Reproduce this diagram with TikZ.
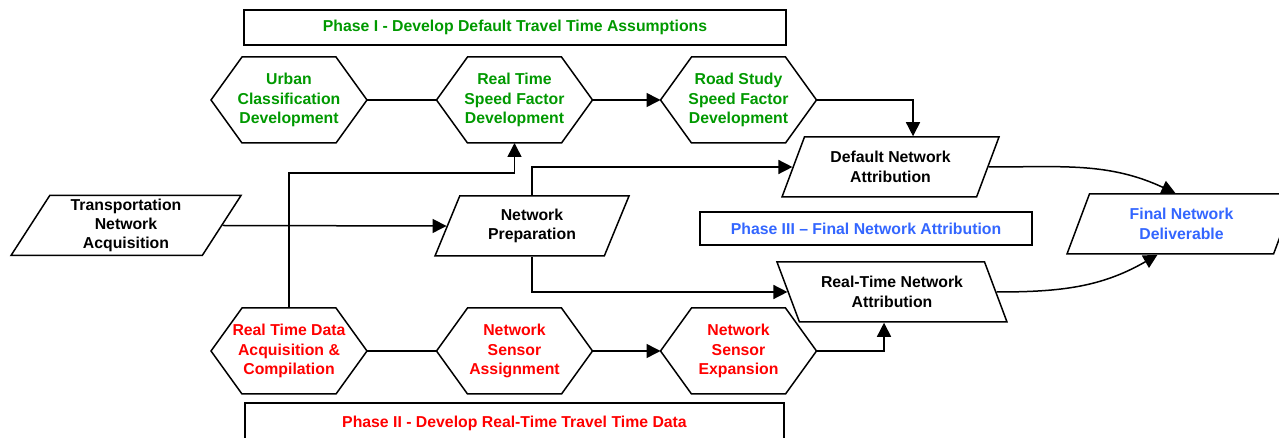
\documentclass[tikz,border=0pt]{standalone}
\usepackage{fontspec}
\setmainfont{Liberation Sans}
\usetikzlibrary{arrows,arrows.meta,shapes.geometric,calc}
\definecolor{PhaseGreen}{HTML}{009900}
\definecolor{PhaseRed}{HTML}{FF0000}
\definecolor{PhaseBlue}{HTML}{3366FF}
\tikzset{
    hexblock/.style = {rectangle, minimum width=156bp, minimum height=86bp,
        align=center, inner sep=0pt, outer sep=0pt},
    slantblock/.style = {draw, line width=1.5bp, trapezium,
        trapezium left angle=54, trapezium right angle=126,
        trapezium stretches body, minimum height=60bp, align=center, inner sep=0pt},
    mirrorblock/.style = {slantblock, trapezium left angle=126, trapezium right angle=54},
    phase/.style = {draw, line width=1.5bp, rectangle, minimum height=35bp, align=center},
    line/.style = {draw, line width=1.5bp},
    arrow/.style = {draw, line width=1.5bp, ->}
}

\begin{document}
\begin{tikzpicture}[x=1bp, y=-1bp, font=\fontsize{15.8bp}{19.3bp}\selectfont\bfseries,
    >={Triangle[length=14bp,width=14bp]}]
    \useasboundingbox (0,0) rectangle (1279,438);
    % phase banners
    \node [phase, minimum width=542bp, text=PhaseGreen] (phaseone) at (515,27.5) {Phase I - Develop Default Travel Time Assumptions};
    \node [phase, minimum width=332bp, minimum height=33bp, text=PhaseBlue] (phasethree) at (866,228.5) {Phase III – Final Network Attribution};
    \node [phase, minimum width=539bp, minimum height=40bp, text=PhaseRed] (phasetwo) at (514.5,423) {Phase II - Develop Real-Time Travel Time Data};
    % phase I steps
    \node [hexblock, text=PhaseGreen] (urban) at (289,100) {Urban\\Classification\\Development};
    \node [hexblock, text=PhaseGreen, right of=urban, node distance=225.5bp] (rtspeed) {Real Time\\Speed Factor\\Development};
    \node [hexblock, text=PhaseGreen, right of=rtspeed, node distance=224bp] (roadstudy) {Road Study\\Speed Factor\\Development};
    % phase II steps
    \node [hexblock, text=PhaseRed] (rtdata) at (289,351) {Real Time Data\\Acquisition \&\\Compilation};
    \node [hexblock, text=PhaseRed, right of=rtdata, node distance=225.5bp] (sensorassign) {Network\\Sensor\\Assignment};
    \node [hexblock, text=PhaseRed, right of=sensorassign, node distance=224bp] (sensorexp) {Network\\Sensor\\Expansion};
    % hexagon outlines
    \foreach \hex in {urban,rtspeed,roadstudy,rtdata,sensorassign,sensorexp}
        \draw [line] (\hex.west) -- ([xshift=31bp]\hex.north west) -- ([xshift=-31bp]\hex.north east)
            -- (\hex.east) -- ([xshift=-31bp]\hex.south east) -- ([xshift=31bp]\hex.south west) -- cycle;
    % network nodes
    \node [slantblock, minimum width=230bp] (transport) at (126,225.5) {Transportation\\Network\\Acquisition};
    \node [slantblock, minimum width=194bp] (netprep) at (532,226) {Network\\Preparation};
    \node [slantblock, minimum width=217bp] (defattr) at (890.5,167) {Default Network\\Attribution};
    \node [mirrorblock, minimum width=230bp] (rtattr) at (892,292) {Real-Time Network\\Attribution};
    \node [slantblock, minimum width=229bp, text=PhaseBlue] (finaldel) at (1181.5,224) {Final Network\\Deliverable};
    % connectors
    \draw [line] (urban) -- (rtspeed);
    \draw [arrow] (rtspeed) -- (roadstudy);
    \draw [arrow] (roadstudy) -| ([xshift=22.5bp]defattr.north);
    \draw [arrow] (netprep.north) |- (defattr.west);
    \draw [arrow] (rtdata.north) |- ([yshift=-30bp]rtspeed.south) -- (rtspeed.south);
    \draw [arrow] (transport.east) -- (netprep.west);
    \draw [arrow] (netprep.south) |- (rtattr.west);
    \draw [line] (rtdata) -- (sensorassign);
    \draw [arrow] (sensorassign) -- (sensorexp);
    \draw [arrow] (sensorexp.east) -| ([xshift=-8bp]rtattr.south);
    \draw [arrow] (defattr.east) to[out=0, in=155] ([xshift=-6bp]finaldel.north);
    \draw [arrow] (rtattr.east) to[out=0, in=-150] ([xshift=-24bp]finaldel.south);
\end{tikzpicture}
\end{document}
